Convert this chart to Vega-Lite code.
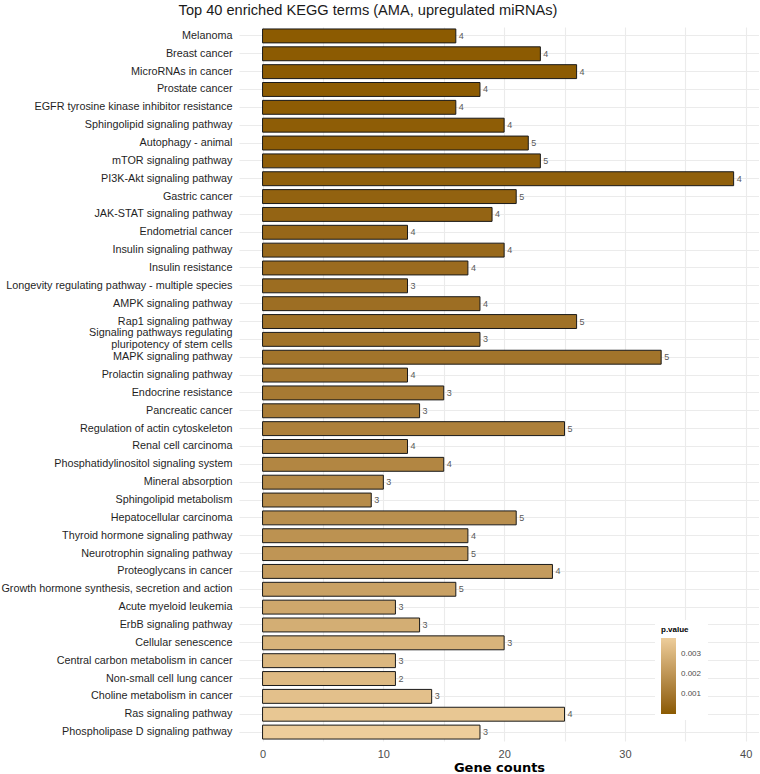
{
  "$schema": "https://vega.github.io/schema/vega-lite/v6.json",
  "width": 520,
  "height": 714,
  "padding": {"left": 0, "top": 3, "right": 0, "bottom": 0},
  "background": "white",
  "title": {
    "text": "Top 40 enriched KEGG terms (AMA, upregulated miRNAs)",
    "font": "Liberation Sans",
    "fontSize": 14.6,
    "fontWeight": "normal",
    "color": "#1a1a1a",
    "anchor": "middle",
    "frame": "bounds",
    "dx": -12,
    "offset": 9
  },
  "config": {
    "view": {"stroke": null},
    "axis": {"labelFont": "Liberation Sans", "titleFont": "DejaVu Sans"}
  },
  "data": {
    "values": [
      {"term": "Melanoma", "count": 16, "genes": 4, "p": 0.00002},
      {"term": "Breast cancer", "count": 23, "genes": 4, "p": 0.00003},
      {"term": "MicroRNAs in cancer", "count": 26, "genes": 4, "p": 0.00004},
      {"term": "Prostate cancer", "count": 18, "genes": 4, "p": 0.00006},
      {"term": "EGFR tyrosine kinase inhibitor resistance", "count": 16, "genes": 4, "p": 0.00008},
      {"term": "Sphingolipid signaling pathway", "count": 20, "genes": 4, "p": 0.0001},
      {"term": "Autophagy - animal", "count": 22, "genes": 5, "p": 0.00012},
      {"term": "mTOR signaling pathway", "count": 23, "genes": 5, "p": 0.00015},
      {"term": "PI3K-Akt signaling pathway", "count": 39, "genes": 4, "p": 0.0002},
      {"term": "Gastric cancer", "count": 21, "genes": 5, "p": 0.00028},
      {"term": "JAK-STAT signaling pathway", "count": 19, "genes": 4, "p": 0.00035},
      {"term": "Endometrial cancer", "count": 12, "genes": 4, "p": 0.00045},
      {"term": "Insulin signaling pathway", "count": 20, "genes": 4, "p": 0.00052},
      {"term": "Insulin resistance", "count": 17, "genes": 4, "p": 0.0006},
      {"term": "Longevity regulating pathway - multiple species", "count": 12, "genes": 3, "p": 0.00065},
      {"term": "AMPK signaling pathway", "count": 18, "genes": 4, "p": 0.0007},
      {"term": "Rap1 signaling pathway", "count": 26, "genes": 5, "p": 0.00078},
      {"term": "Signaling pathways regulating pluripotency of stem cells", "count": 18, "genes": 3, "p": 0.00085},
      {"term": "MAPK signaling pathway", "count": 33, "genes": 5, "p": 0.0009},
      {"term": "Prolactin signaling pathway", "count": 12, "genes": 4, "p": 0.001},
      {"term": "Endocrine resistance", "count": 15, "genes": 3, "p": 0.0011},
      {"term": "Pancreatic cancer", "count": 13, "genes": 3, "p": 0.0012},
      {"term": "Regulation of actin cytoskeleton", "count": 25, "genes": 5, "p": 0.0013},
      {"term": "Renal cell carcinoma", "count": 12, "genes": 4, "p": 0.00145},
      {"term": "Phosphatidylinositol signaling system", "count": 15, "genes": 4, "p": 0.0015},
      {"term": "Mineral absorption", "count": 10, "genes": 3, "p": 0.0016},
      {"term": "Sphingolipid metabolism", "count": 9, "genes": 3, "p": 0.0017},
      {"term": "Hepatocellular carcinoma", "count": 21, "genes": 5, "p": 0.0018},
      {"term": "Thyroid hormone signaling pathway", "count": 17, "genes": 4, "p": 0.0019},
      {"term": "Neurotrophin signaling pathway", "count": 17, "genes": 5, "p": 0.002},
      {"term": "Proteoglycans in cancer", "count": 24, "genes": 4, "p": 0.0022},
      {"term": "Growth hormone synthesis, secretion and action", "count": 16, "genes": 5, "p": 0.0024},
      {"term": "Acute myeloid leukemia", "count": 11, "genes": 3, "p": 0.0026},
      {"term": "ErbB signaling pathway", "count": 13, "genes": 3, "p": 0.0028},
      {"term": "Cellular senescence", "count": 20, "genes": 3, "p": 0.003},
      {"term": "Central carbon metabolism in cancer", "count": 11, "genes": 3, "p": 0.0031},
      {"term": "Non-small cell lung cancer", "count": 11, "genes": 2, "p": 0.0032},
      {"term": "Choline metabolism in cancer", "count": 14, "genes": 3, "p": 0.0034},
      {"term": "Ras signaling pathway", "count": 25, "genes": 4, "p": 0.0036},
      {"term": "Phospholipase D signaling pathway", "count": 18, "genes": 3, "p": 0.0038}
    ]
  },
  "encoding": {
    "y": {
      "field": "term",
      "type": "nominal",
      "sort": null,
      "scale": {"paddingInner": 0.22, "paddingOuter": 0.11},
      "axis": {
        "title": null,
        "domain": false,
        "ticks": false,
        "grid": true,
        "bandPosition": 0.5,
        "gridColor": "#ebebeb",
        "gridWidth": 1.1,
        "labelFontSize": 10.8,
        "labelColor": "#1f1f1f",
        "labelPadding": 7,
        "labelLimit": 400,
        "labelLineHeight": 12,
        "labelOffset": {"condition": {"test": "datum.value == 'Signaling pathways regulating pluripotency of stem cells'", "value": -6}, "value": 0},
        "labelExpr": "datum.label == 'Signaling pathways regulating pluripotency of stem cells' ? ['Signaling pathways regulating', 'pluripotency of stem cells'] : datum.label"
      }
    },
    "x": {
      "field": "count",
      "type": "quantitative",
      "scale": {"domain": [-1.95, 41.1], "nice": false, "zero": false},
      "axis": {
        "title": "Gene counts",
        "titleFontSize": 13,
        "titleFontWeight": "bold",
        "titleColor": "#000000",
        "titlePadding": 2,
        "values": [0, 5, 10, 15, 20, 25, 30, 35, 40],
        "labelExpr": "datum.value % 10 === 0 ? datum.label : ''",
        "domain": false,
        "ticks": false,
        "grid": true,
        "gridColor": "#ebebeb",
        "gridWidth": 1.1,
        "labelFontSize": 11,
        "labelColor": "#4d4d4d",
        "labelPadding": 7
      }
    }
  },
  "layer": [
    {
      "mark": {"type": "bar", "stroke": "#1a1a1a", "strokeWidth": 1},
      "encoding": {
        "x2": {"datum": 0},
        "color": {
          "field": "p",
          "type": "quantitative",
          "title": "p.value",
          "scale": {"domain": [0, 0.0038], "range": ["#8B5A00", "#EDCD9B"]},
          "legend": {
            "orient": "none",
            "legendX": 416,
            "legendY": 593,
            "values": [0.001, 0.002, 0.003],
            "format": ".3f",
            "gradientLength": 76,
            "gradientThickness": 15,
            "gradientStrokeWidth": 0,
            "titleFontSize": 8,
            "titleFont": "Liberation Sans",
            "titleFontWeight": "bold",
            "titleColor": "#000",
            "titlePadding": 4,
            "labelFontSize": 8,
            "labelFont": "Liberation Sans",
            "labelColor": "#4d4d4d",
            "labelOffset": 5,
            "fillColor": "white",
            "padding": 6
          }
        }
      }
    },
    {
      "mark": {"type": "text", "align": "left", "dx": 3, "fontSize": 9, "font": "Liberation Sans", "color": "#595959"},
      "encoding": {
        "text": {"field": "genes", "type": "quantitative"}
      }
    }
  ]
}
